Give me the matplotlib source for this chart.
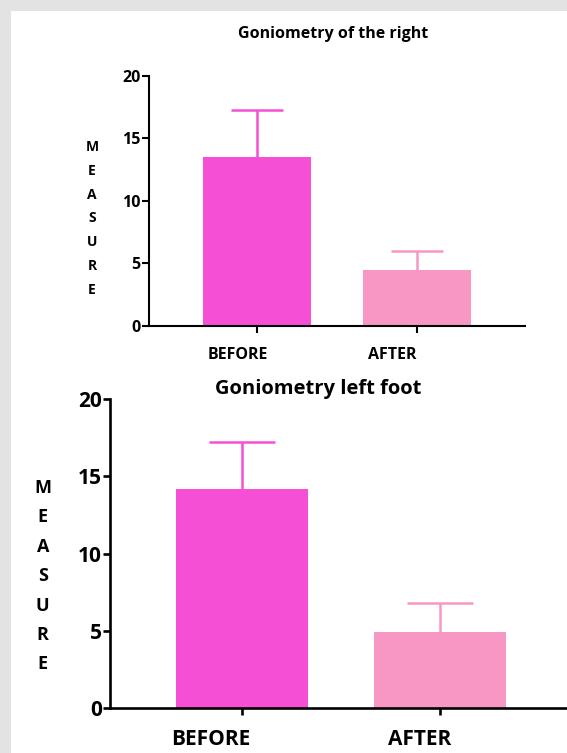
import matplotlib.pyplot as plt
from matplotlib.patches import Rectangle
import matplotlib.transforms as mtransforms

categories = ['BEFORE', 'AFTER']
right_means = [13.5, 4.5]
right_errs = [3.8, 1.5]
left_means = [14.2, 4.9]
left_errs = [3.0, 1.9]
yticks = [0, 5, 10, 15, 20]

colors = ['#f54fd6', '#f897c4']
W, H = 567, 753

plt.rcParams['font.family'] = ['Open Sans', 'DejaVu Sans']
plt.rcParams['font.weight'] = 'bold'

fig = plt.figure(figsize=(W / 100, H / 100), dpi=100)
fig.patch.set_facecolor('#e3e3e3')
fig.patches.append(Rectangle((11 / W, 0), 1 - 11 / W, 1 - 11 / H,
                             transform=fig.transFigure, facecolor='white',
                             edgecolor='none', zorder=-5))


def draw(ax, means, errs, title, fs, tfs, lw, xlim, cap, label_dx, ylab_x, ylab_y, ylab_fs, ylab_ls, title_x, title_y):
    x = range(len(categories))
    for i in x:
        ax.bar(i, means[i], width=0.67, color=colors[i], zorder=2)
        ax.vlines(i, means[i], means[i] + errs[i], color=colors[i], lw=1.8, zorder=3)
        ax.plot(i, means[i] + errs[i], marker='_', ms=cap, mew=1.8, color=colors[i], zorder=3)
    ax.set_xlim(*xlim)
    ax.set_ylim(0, 20)
    for s in ['top', 'right']:
        ax.spines[s].set_visible(False)
    for s in ['left', 'bottom']:
        ax.spines[s].set_linewidth(lw)
    ax.tick_params(width=lw, length=5, pad=1, labelsize=fs)
    ax.tick_params(axis='x', pad=10)
    ax.set_yticks(yticks)
    ax.set_xticks(list(x))
    ax.set_xticklabels(categories)
    for lab, dx in zip(ax.get_xticklabels(), label_dx):
        lab.set_transform(lab.get_transform() +
                          mtransforms.ScaledTranslation(dx / 100, 0, fig.dpi_scale_trans))
    ax.set_facecolor('none')
    ax.set_title(title, fontsize=tfs, fontweight='bold', x=title_x, y=title_y)
    ax.text(ylab_x, ylab_y, '\n'.join('MEASURE'), transform=ax.transAxes,
            ha='center', va='center', fontsize=ylab_fs, linespacing=ylab_ls)


ax1 = fig.add_axes([149 / W, (H - 326) / H, 376 / W, 250 / H])
draw(ax1, right_means, right_errs, 'Goniometry of the right', 11.5, 11.5, 1.5,
     (-0.675, 1.675), 38, [-19, -25], -0.152, 0.43, 10, 1.9, 0.489, 1.12)

ax2 = fig.add_axes([110 / W, (H - 708) / H, 480 / W, 309 / H])
draw(ax2, left_means, left_errs, 'Goniometry left foot', 15, 14.5, 1.9,
     (-0.667, 1.758), 48, [-31, -20], -0.14, 0.427, 13, 1.82, 0.433, 0.99)

fig.savefig('out.png', dpi=100, facecolor=fig.get_facecolor())
